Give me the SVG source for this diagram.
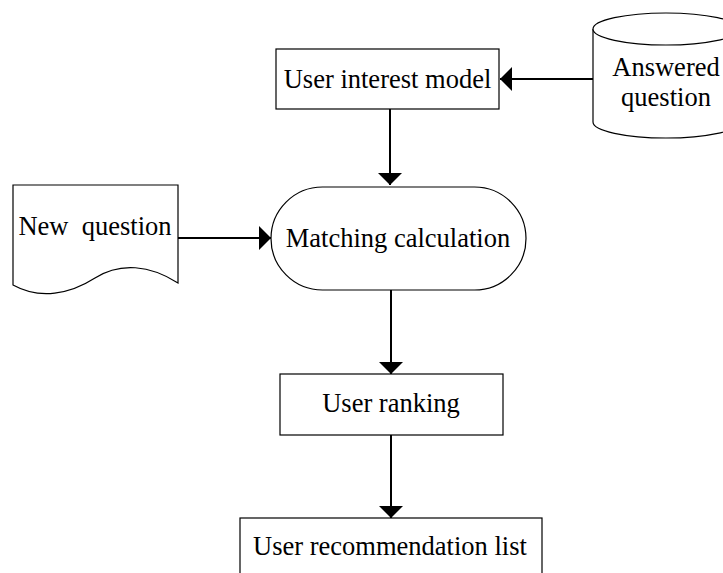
<svg xmlns="http://www.w3.org/2000/svg" width="723" height="573" viewBox="0 0 723 573">
<style>
.box{fill:#fff;stroke:#000;stroke-width:1.2}
.t{font-family:"Liberation Serif","Times New Roman",serif;font-size:26.5px;fill:#000;text-anchor:middle}
.c{fill:none;stroke:#000;stroke-width:2}
</style>
<defs>
<marker id="ah" viewBox="0 0 12 24" refX="12" refY="12" markerWidth="12" markerHeight="24" markerUnits="userSpaceOnUse" orient="auto">
<path d="M0,0 L12,12 L0,24 Z" fill="#000"/>
</marker>
</defs>
<rect width="723" height="573" fill="#fff"/>
<g id="connectors">
<line class="c" x1="593" y1="79" x2="500" y2="79" marker-end="url(#ah)"/>
<line class="c" x1="390" y1="109" x2="390" y2="185" marker-end="url(#ah)"/>
<line class="c" x1="178" y1="238" x2="271" y2="238" marker-end="url(#ah)"/>
<line class="c" x1="391" y1="290" x2="391" y2="374" marker-end="url(#ah)"/>
<line class="c" x1="391" y1="435" x2="391" y2="518" marker-end="url(#ah)"/>
</g>
<g id="user-interest-model">
<rect class="box" x="276" y="49" width="223" height="60"/>
<text class="t" x="387.5" y="88">User interest model</text>
</g>
<g id="answered-question">
<path class="box" d="M593,29 L593,122 A73,16 0 0 0 739,122 L739,29"/>
<ellipse class="box" cx="666" cy="29" rx="73" ry="16"/>
<text class="t" x="666" y="76">Answered</text>
<text class="t" x="666" y="106">question</text>
</g>
<g id="new-question">
<path class="box" d="M13,185 L178,185 L178,283 C150,265 120,262 95,278 C70,294 40,300 13,285 Z"/>
<text class="t" x="95" y="235" xml:space="preserve" style="white-space:pre">New  question</text>
</g>
<g id="matching-calculation">
<rect class="box" x="271" y="187" width="255" height="103" rx="51.5" ry="51.5"/>
<text class="t" x="398" y="247">Matching calculation</text>
</g>
<g id="user-ranking">
<rect class="box" x="280" y="374" width="223" height="61"/>
<text class="t" x="391" y="412">User ranking</text>
</g>
<g id="user-recommendation-list">
<rect class="box" x="240" y="518" width="302" height="70"/>
<text class="t" x="390" y="555">User recommendation list</text>
</g>
</svg>
